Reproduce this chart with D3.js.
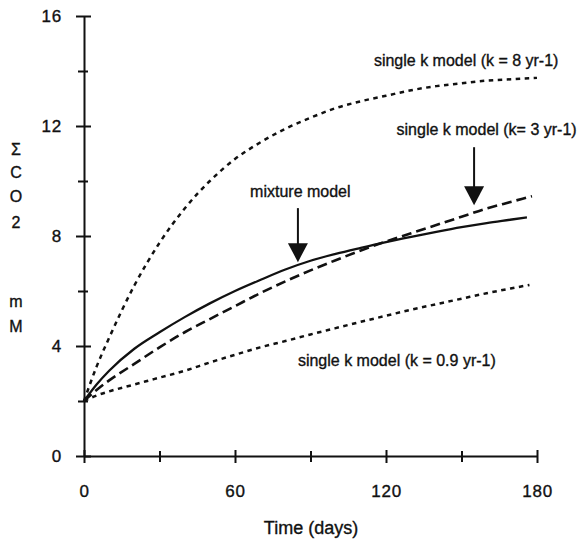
<!DOCTYPE html>
<html>
<head>
<meta charset="utf-8">
<script src="https://cdn.jsdelivr.net/npm/d3@7"></script>
<style>
  body { margin: 0; background: #fff; }
  svg { display: block; }
  text { font-family: "Liberation Sans", Arial, Helvetica, sans-serif; fill: #111; stroke: #111; stroke-width: 0.35px; }
</style>
</head>
<body>
<svg width="585" height="541"></svg>
<script>
// time grid (days) shared by all curves, last point of each curve is added separately
const days = [0, 5, 10, 20, 30, 40, 50, 60, 70, 80, 90, 100, 110, 120, 130, 140, 150, 160, 170];

const k8Values = [2.0, 3.25, 4.3, 6.2, 7.75, 9.0, 10.0, 10.8, 11.4, 11.9, 12.3, 12.65, 12.9, 13.1, 13.3, 13.45, 13.55, 13.65, 13.7, 13.75];
const k3Values = [2.0, 2.4, 2.75, 3.35, 3.95, 4.5, 4.98, 5.45, 5.92, 6.35, 6.75, 7.12, 7.47, 7.8, 8.1, 8.4, 8.7, 9.0, 9.25, 9.45];
const mixtureValues = [2.0, 2.6, 3.1, 3.9, 4.5, 5.05, 5.55, 6.0, 6.4, 6.78, 7.1, 7.35, 7.57, 7.78, 7.97, 8.15, 8.32, 8.47, 8.6, 8.68];
const k09Values = [2.0, 2.2, 2.35, 2.6, 2.85, 3.1, 3.4, 3.68, 3.95, 4.18, 4.42, 4.65, 4.88, 5.1, 5.32, 5.52, 5.72, 5.92, 6.1, 6.22];
const endDays = [180, 178, 176, 177]; // k8, k3, mixture, k0.9

const xMajor = [0, 60, 120, 180];
const xMinor = [30, 90, 150];
const yMajor = [0, 4, 8, 12, 16];
const yMinor = [2, 6, 10, 14];
const yTitle = ['Σ', 'C', 'O', '2', 'm', 'M'];

const labels = ['single k model (k = 8 yr-1)', 'single k model (k= 3 yr-1)', 'mixture model', 'single k model (k = 0.9 yr-1)'];
const labelDays = [115.2, 124.2, 66, 85];
const labelValues = [14.2, 11.67, 9.42, 3.27];

const arrowDays = [85, 155];
const arrowTips = [7.05, 9.12];

const svg = d3.select('svg');

const x = d3.scaleLinear().domain([0, 180]).range([84, 537]);
const y = d3.scaleLinear().domain([0, 16]).range([456, 16]);

// axes
const xAxis = svg.append('g').attr('transform', `translate(0,${y(0)})`)
    .call(d3.axisBottom(x).tickValues(xMajor).tickSize(7).tickPadding(22).tickSizeOuter(0));
xAxis.selectAll('.tick line').attr('y1', -6);
svg.append('g').attr('transform', `translate(0,${y(0)})`)
    .call(d3.axisBottom(x).tickValues(xMinor).tickSize(6).tickFormat('').tickSizeOuter(0))
    .call(g => g.select('.domain').remove())
    .selectAll('.tick line').attr('y1', -5);

const yAxis = svg.append('g').attr('transform', `translate(${x(0)},0)`)
    .call(d3.axisLeft(y).tickValues(yMajor).tickSize(8).tickPadding(14).tickSizeOuter(0));
yAxis.selectAll('.tick line').attr('x1', 7);
svg.append('g').attr('transform', `translate(${x(0)},0)`)
    .call(d3.axisLeft(y).tickValues(yMinor).tickSize(6).tickFormat('').tickSizeOuter(0))
    .call(g => g.select('.domain').remove())
    .selectAll('.tick line').attr('x1', 4);

svg.selectAll('.domain, .tick line').attr('stroke', '#111').attr('stroke-width', 2);
svg.selectAll('.tick text').attr('font-size', 17).attr('fill', '#111')
    .attr('font-family', '"Liberation Sans", Arial, sans-serif').style('letter-spacing', '0.8px');

// axis titles
svg.append('text').attr('x', 311).attr('y', 534).attr('text-anchor', 'middle')
    .attr('font-size', 18).text('Time (days)');

const titleY = [155, 178, 202, 228, 307, 332];
svg.selectAll('.ytitle').data(yTitle).join('text').attr('class', 'ytitle')
    .attr('x', 16).attr('y', (d, i) => titleY[i]).attr('text-anchor', 'middle')
    .attr('font-size', 16).text(d => d);

// curves
const line = d3.line().x(d => x(d[0])).y(d => y(d[1])).curve(d3.curveMonotoneX);
const series = [
    {values: k8Values, dash: '4.5,4.5', width: 2.5},
    {values: k3Values, dash: '10,5', width: 2.6},
    {values: mixtureValues, dash: null, width: 2.3},
    {values: k09Values, dash: '4.5,4.5', width: 2.5}
];
svg.selectAll('.curve').data(series).join('path').attr('class', 'curve')
    .attr('d', (s, i) => line(days.concat(endDays[i]).map((d, j) => [d, s.values[j]])))
    .attr('fill', 'none').attr('stroke', '#111')
    .attr('stroke-width', s => s.width)
    .attr('stroke-dasharray', s => s.dash);

// arrows
const shaft = [54, 58];
arrowDays.forEach((d, i) => {
    const ax = x(d), tip = y(arrowTips[i]);
    svg.append('line').attr('x1', ax).attr('x2', ax)
        .attr('y1', tip - shaft[i]).attr('y2', tip - 15)
        .attr('stroke', '#111').attr('stroke-width', 2);
    svg.append('path')
        .attr('d', `M${ax - 10},${tip - 19} L${ax + 10},${tip - 19} L${ax},${tip} Z`)
        .attr('fill', '#111');
});

// labels
svg.selectAll('.label').data(labels).join('text').attr('class', 'label')
    .attr('x', (d, i) => x(labelDays[i])).attr('y', (d, i) => y(labelValues[i]))
    .attr('font-size', 16).text(d => d);
</script>
</body>
</html>
